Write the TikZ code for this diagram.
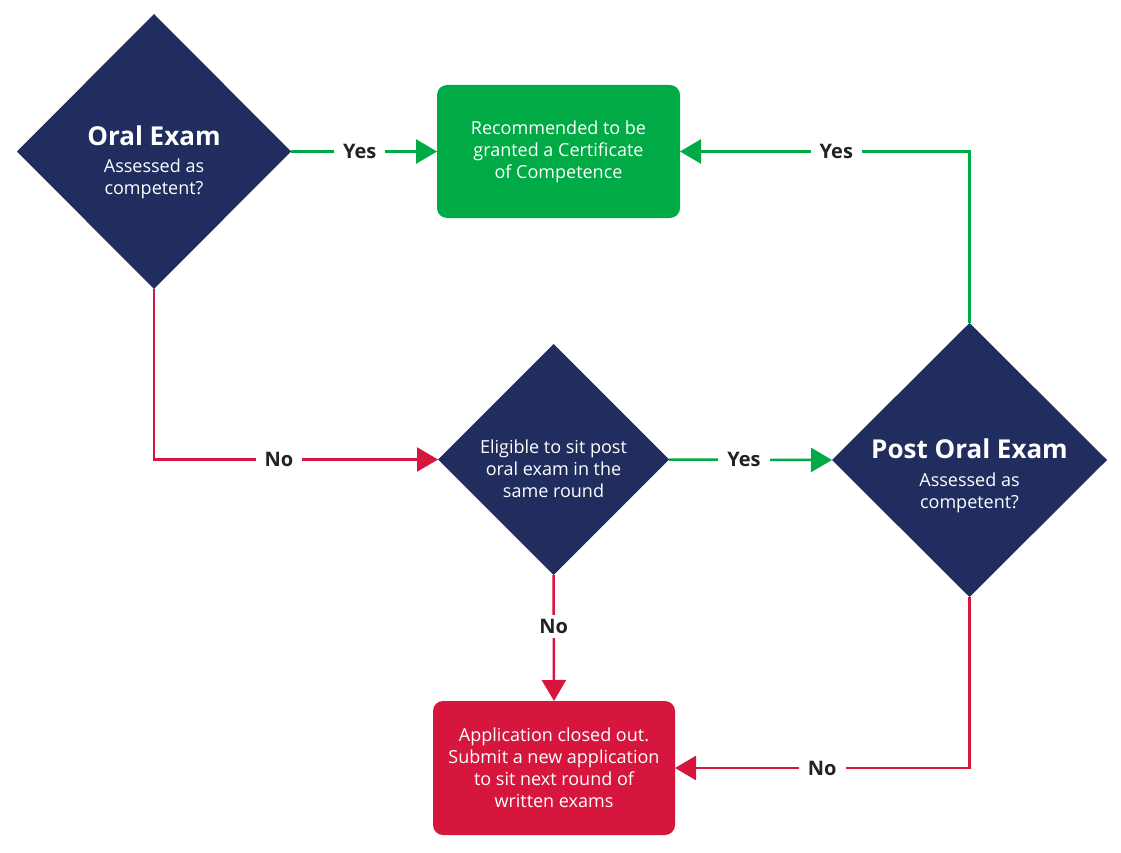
\documentclass[tikz,border=0pt]{standalone}
\usepackage{fontspec}
\setmainfont{Open Sans}
\usetikzlibrary{shapes.geometric,arrows.meta}
\definecolor{navy}{RGB}{33,45,94}
\definecolor{okgreen}{RGB}{0,170,69}
\definecolor{nored}{RGB}{215,22,61}
\definecolor{labeltext}{RGB}{34,34,34}
\tikzset{
  decision/.style={diamond,fill=navy,inner sep=0pt,outer sep=0pt,aspect=1},
  titletext/.style={text=white,font=\fontsize{26}{30}\selectfont\bfseries,anchor=base,inner sep=0pt},
  bodytext/.style={text=white,font=\fontsize{18}{22}\selectfont,align=center,inner sep=0pt},
  outcome/.style={rounded corners=10pt,inner sep=0pt,outer sep=0pt,text=white,
    font=\fontsize{18}{22}\selectfont,align=center},
  yesline/.style={draw=okgreen,line width=2.5pt,-{Triangle[length=21pt,width=24pt]}},
  noline/.style={draw=nored,line width=2.5pt,-{Triangle[length=21pt,width=24pt]}},
  lbl/.style={fill=white,text=labeltext,font=\fontsize{20}{24}\selectfont\bfseries,inner xsep=9pt,inner ysep=4pt}
}
\begin{document}
\begin{tikzpicture}[x=1pt,y=-1pt]
\useasboundingbox (0,0) rectangle (1121,853);
% decisions
\node[decision,minimum width=274pt,minimum height=275pt] (oral) at (154,151.5) {};
\node[decision,minimum width=275pt,minimum height=274pt] (post) at (969.5,460) {};
\node[decision,minimum width=231pt,minimum height=231pt] (elig) at (553.5,459.5) {};
% outcomes
\node[outcome,fill=okgreen,minimum width=243pt,minimum height=133pt] (green) at (558.5,151.5)
  {Recommended to be\\granted a Certificate\\of Competence};
\node[outcome,fill=nored,minimum width=242pt,minimum height=134pt] (red) at (554,768)
  {Application closed out.\\Submit a new application\\to sit next round of\\written exams};
% texts in decisions
\node[titletext] (oraltitle) at (154,146) {Oral Exam};
\node[bodytext,anchor=base] (oralbody) at (154,195) {Assessed as\\competent?};
\node[titletext] (posttitle) at (969.5,458) {Post Oral Exam};
\node[bodytext,anchor=base] (postbody) at (969.5,508) {Assessed as\\competent?};
\node[bodytext] (eligtext) at (553.5,469) {Eligible to sit post\\oral exam in the\\same round};
% connectors
\draw[yesline] (oral.east) -- node[lbl,pos=0.47] (l1) {Yes} (green.west);
\draw[yesline] (post.north) |- node[lbl,pos=0.73] (l2) {Yes} (green.east);
\draw[noline] (oral.south) |- node[lbl,pos=0.72] (l3) {No} (elig.west);
\draw[yesline] (elig.east) -- node[lbl,pos=0.46] (l4) {Yes} (post.west);
\draw[noline] (elig.south) -- node[lbl,pos=0.41] (l5) {No} (red.north);
\draw[noline] (post.south) |- node[lbl,pos=0.75] (l6) {No} (red.east);
\end{tikzpicture}
\end{document}
